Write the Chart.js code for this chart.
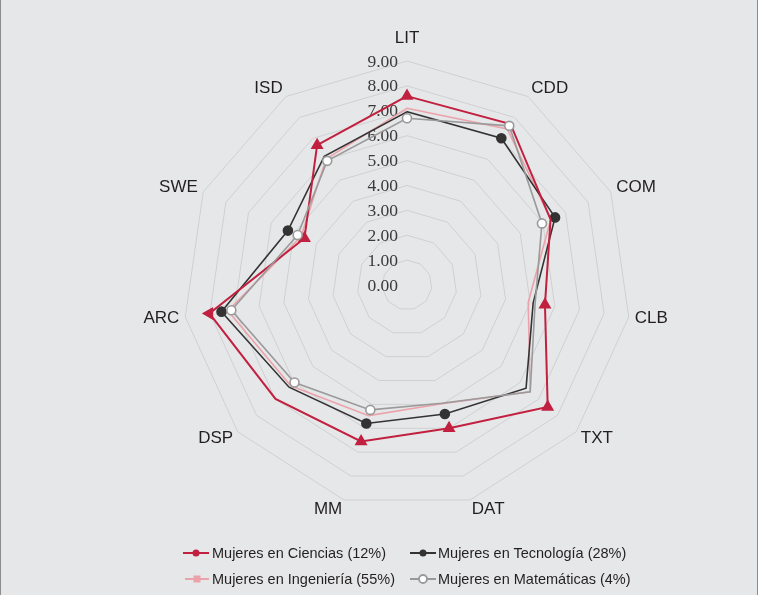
<!DOCTYPE html>
<html>
<head>
<meta charset="utf-8">
<script src="https://cdn.jsdelivr.net/npm/chart.js@4.4.1/dist/chart.umd.min.js"></script>
<style>
    html, body { margin: 0; padding: 0; background: #ffffff; }
    #frame {
        position: relative; width: 756px; height: 595px;
        background: #e6e7e9; border-left: 1px solid #8c8c8c; border-right: 1px solid #8c8c8c;
        overflow: hidden;
    }
    #radar-chart { position: absolute; left: -1px; top: 0; }
    .legend-item {
        position: absolute; height: 20px; line-height: 20px;
        font-family: "Liberation Sans", Arial, sans-serif; font-size: 14.5px; color: #231f20;
        white-space: nowrap;
    }
    .legend-item svg { position: absolute; left: 0; top: 3px; }
    .legend-item span { position: absolute; }
</style>
</head>
<body>
<div id="frame">
    <canvas id="radar-chart" width="764" height="595"></canvas>
    <div class="legend-item" style="left:181px; top:543px;">
        <svg width="28" height="14"><line x1="1" y1="7" x2="27" y2="7" stroke="#c1203f" stroke-width="2"/><circle cx="14" cy="7" r="3.5" fill="#c1203f"/></svg>
        <span style="left:30px;">Mujeres en Ciencias (12%)</span>
    </div>
    <div class="legend-item" style="left:408px; top:543px;">
        <svg width="28" height="14"><line x1="1" y1="7" x2="27" y2="7" stroke="#333333" stroke-width="2"/><circle cx="14" cy="7" r="3.5" fill="#333333"/></svg>
        <span style="left:29px;">Mujeres en Tecnología (28%)</span>
    </div>
    <div class="legend-item" style="left:183px; top:569px;">
        <svg width="28" height="14"><line x1="1" y1="7" x2="25" y2="7" stroke="#eba3ab" stroke-width="2"/><rect x="9.5" y="3.5" width="7" height="7" fill="#eba3ab"/></svg>
        <span style="left:28px;">Mujeres en Ingeniería (55%)</span>
    </div>
    <div class="legend-item" style="left:408px; top:569px;">
        <svg width="28" height="14"><line x1="1" y1="7" x2="27" y2="7" stroke="#999999" stroke-width="2"/><circle cx="14" cy="7" r="4" fill="#ffffff" stroke="#999999" stroke-width="1.8"/></svg>
        <span style="left:29px;">Mujeres en Matemáticas (4%)</span>
    </div>
</div>
<script>
// axis labels and tick labels
var axisLabels = ['LIT', 'CDD', 'COM', 'CLB', 'TXT', 'DAT', 'MM', 'DSP', 'ARC', 'SWE', 'ISD'];
var tickLabels = ['0.00', '1.00', '2.00', '3.00', '4.00', '5.00', '6.00', '7.00', '8.00', '9.00'];

// series values
var ciencias    = [7.59, 7.69, 6.34, 5.60, 7.48, 6.00, 6.55, 6.99, 8.02, 4.53, 6.68];
var tecnologia  = [6.96, 7.01, 6.54, 5.12, 6.33, 5.40, 5.80, 6.27, 7.53, 5.26, 6.15];
var ingenieria  = [7.10, 7.45, 6.35, 4.92, 6.55, 4.97, 5.47, 6.18, 7.27, 4.68, 6.02];
var matematicas = [6.70, 7.60, 5.96, 5.20, 6.55, 4.95, 5.23, 5.98, 7.13, 4.83, 5.93];

document.addEventListener("DOMContentLoaded", function() {
    var ctx = document.getElementById('radar-chart').getContext('2d');

    // tick labels sit left of the vertical axis, drawn under the lines
    var tickPlugin = {
        id: 'tickText',
        beforeDatasetsDraw: function(chart) {
            var scale = chart.scales.r;
            var c = chart.ctx;
            c.save();
            c.font = '17.5px "Liberation Serif", "DejaVu Serif", serif';
            c.fillStyle = '#3a3a3a';
            c.textAlign = 'right';
            c.textBaseline = 'middle';
            for (var i = 0; i < tickLabels.length; i++) {
                var d = scale.getDistanceFromCenterForValue(parseFloat(tickLabels[i]));
                c.fillText(tickLabels[i], scale.xCenter - 9, scale.yCenter - d + 1);
            }
            c.restore();
        },
        afterDraw: function(chart) {
            // axis names around the outer ring
            var scale = chart.scales.r;
            var c = chart.ctx;
            c.save();
            c.font = '17px "Liberation Sans", Arial, sans-serif';
            c.fillStyle = '#231f20';
            c.textAlign = 'center';
            c.textBaseline = 'middle';
            for (var i = 0; i < axisLabels.length; i++) {
                var ang = i * 2 * Math.PI / axisLabels.length;
                var s = Math.sin(ang), co = Math.cos(ang);
                var p = scale.getPointPosition(i, scale.drawingArea + 6);
                var w = c.measureText(axisLabels[i]).width;
                var dx, dy;
                if (Math.abs(s) > 0.2) {
                    // side labels: nearest edge touches the axis end
                    dx = (s > 0 ? 1 : -1) * w / 2;
                    dy = -co * 4;
                } else {
                    dx = 0;
                    dy = -co * 17;
                }
                c.fillText(axisLabels[i], p.x + dx, p.y + dy);
            }
            c.restore();
        }
    };

    var chart = new Chart(ctx, {
        type: 'radar',
        data: {
            labels: axisLabels,
            datasets: [{
                label: 'Mujeres en Matemáticas (4%)',
                data: matematicas,
                borderColor: '#9a9a9a',
                borderWidth: 1.6,
                pointStyle: 'circle',
                pointBackgroundColor: '#ffffff',
                pointBorderColor: '#9a9a9a',
                pointBorderWidth: 1.6,
                pointRadius: [4.5, 4.5, 4.5, 0, 0, 0, 4.5, 4.5, 4.5, 4.5, 4.5],
                fill: false,
                order: 1
            }, {
                label: 'Mujeres en Ingeniería (55%)',
                data: ingenieria,
                borderColor: '#eba3ab',
                borderWidth: 1.6,
                pointRadius: 0,
                fill: false,
                order: 4
            }, {
                label: 'Mujeres en Tecnología (28%)',
                data: tecnologia,
                borderColor: '#333333',
                borderWidth: 1.6,
                pointStyle: 'circle',
                pointBackgroundColor: '#333333',
                pointBorderColor: '#333333',
                pointRadius: [0, 4.5, 4.5, 0, 0, 4.5, 4.5, 0, 4.5, 4.5, 0],
                fill: false,
                order: 3
            }, {
                label: 'Mujeres en Ciencias (12%)',
                data: ciencias,
                borderColor: '#c1203f',
                borderWidth: 2,
                pointStyle: 'triangle',
                pointBackgroundColor: '#c1203f',
                pointBorderColor: '#c1203f',
                pointRadius: [5.5, 0, 0, 5.5, 5.5, 5.5, 5.5, 0, 5.5, 5.5, 5.5],
                pointRotation: [0, 0, 0, 0, 0, 0, 0, 0, -90, 0, 0],
                fill: false,
                order: 2
            }]
        },
        options: {
            responsive: false,
            animation: false,
            layout: {
                padding: { left: 183, right: 133, top: 61, bottom: 86 }
            },
            plugins: {
                legend: { display: false },
                tooltip: { enabled: false }
            },
            elements: {
                line: { tension: 0 }
            },
            scales: {
                r: {
                    min: 0,
                    max: 9,
                    ticks: { display: false, stepSize: 1 },
                    pointLabels: { display: false },
                    angleLines: { display: false },
                    grid: { color: '#cfd0d2', lineWidth: 1 }
                }
            }
        },
        plugins: [tickPlugin]
    });
});
</script>
</body>
</html>
